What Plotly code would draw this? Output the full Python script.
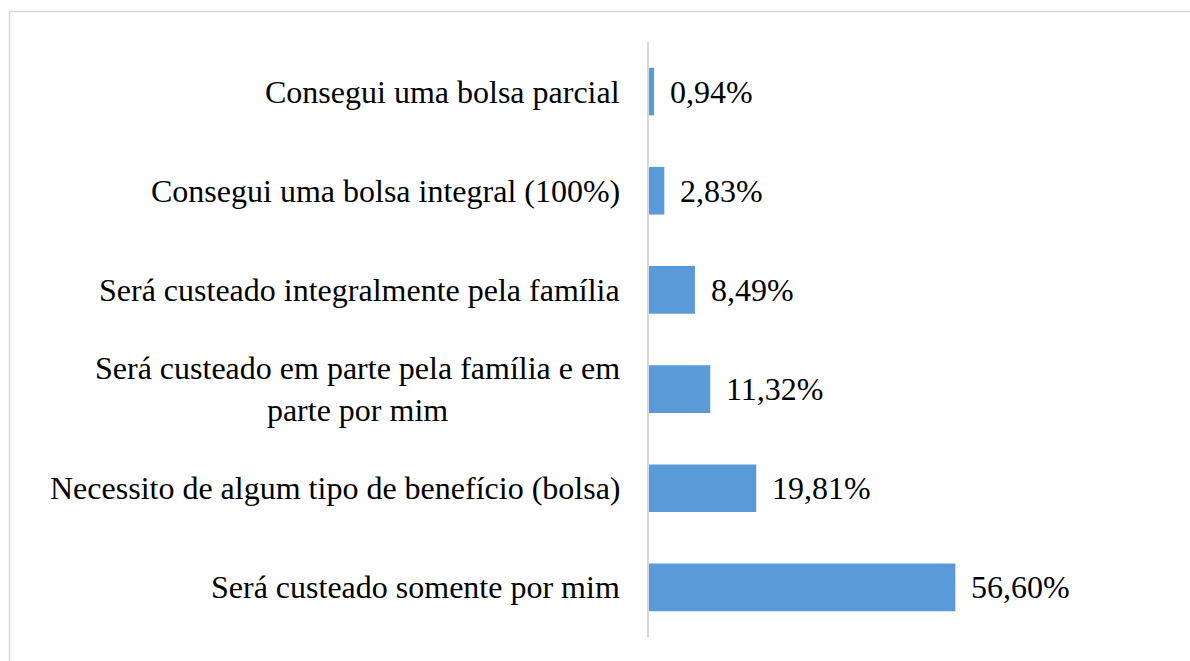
import plotly.graph_objects as go

categories = [
    "Consegui uma bolsa parcial",
    "Consegui uma bolsa integral (100%)",
    "Será custeado integralmente pela família",
    "Será custeado em parte pela família e em<br>parte por mim",
    "Necessito de algum tipo de benefício (bolsa)",
    "Será custeado somente por mim",
]
values = [0.94, 2.83, 8.49, 11.32, 19.81, 56.60]
value_labels = ["0,94%", "2,83%", "8,49%", "11,32%", "19,81%", "56,60%"]

W, H = 1190, 661
L, R, T, B = 649, 108, 42, 24
pw = W - L - R
ph = H - T - B
FONT = "Liberation Serif"
FS = 32

fig = go.Figure()
fig.add_trace(go.Bar(
    x=values, y=categories, orientation="h",
    marker=dict(color="#5A9AD8", line=dict(width=0)),
    width=0.48, hoverinfo="skip",
))

annotations = []
for c, v, t in zip(categories, values, value_labels):
    annotations.append(dict(x=v, y=c, xref="x", yref="y", text=t, showarrow=False,
                            xanchor="left", yanchor="middle", xshift=14,
                            font=dict(family=FONT, size=FS, color="black")))
    annotations.append(dict(x=0, y=c, xref="paper", yref="y", text=c, showarrow=False,
                            xanchor="right", yanchor="middle", xshift=-27, align="center",
                            font=dict(family=FONT, size=FS, color="black")))

fig.update_layout(
    width=W, height=H,
    margin=dict(l=L, r=R, t=T, b=B),
    plot_bgcolor="white", paper_bgcolor="white",
    showlegend=False,
    font=dict(family=FONT),
    xaxis=dict(range=[0, 80], visible=False, fixedrange=True),
    yaxis=dict(autorange="reversed", showticklabels=False, ticks="",
               showline=True, linecolor="#d9d9d9", linewidth=2, showgrid=False,
               zeroline=False, fixedrange=True),
    annotations=annotations,
    shapes=[dict(type="rect", xref="paper", yref="paper",
                 x0=(9.5 - L) / pw, x1=(W + 20 - L) / pw,
                 y0=-(B + 20) / ph, y1=1 + (T - 11.5) / ph,
                 line=dict(color="#d9d9d9", width=1.5), fillcolor="rgba(0,0,0,0)",
                 layer="below")],
)

fig.write_html("out.html", config={"displayModeBar": False},
               post_script="document.body.style.margin='0';")
